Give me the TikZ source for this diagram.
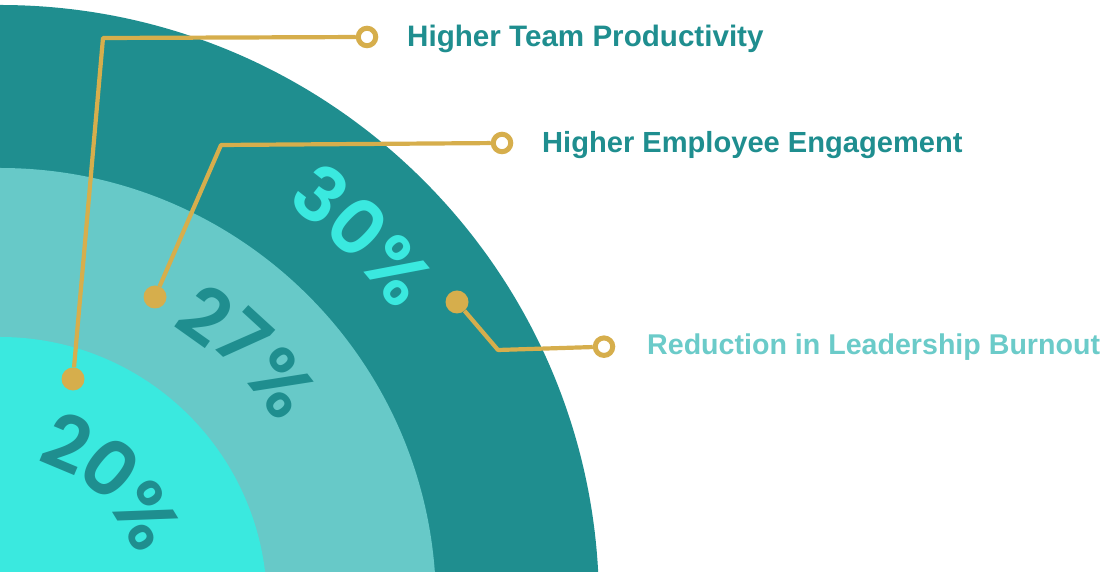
\documentclass[tikz,border=0pt]{standalone}
\usepackage{fontspec}
\setmainfont{Liberation Sans}
\newfontfamily\pop{Poppins SemiBold}
\definecolor{darkteal}{HTML}{1F8E8F}
\definecolor{lightteal}{HTML}{67C9C8}
\definecolor{cyanring}{HTML}{3AE9DF}
\definecolor{labteal}{HTML}{6BCBC9}
\definecolor{gold}{HTML}{D6AE4C}
\tikzset{
  pct/.style={font=\pop\fontsize{76}{76}\selectfont, inner sep=0pt, anchor=center},
  lab/.style={font=\bfseries\fontsize{29}{29}\selectfont, inner sep=0pt, anchor=base west},
  ringend/.style={circle, draw=gold, line width=5pt, fill=white, minimum size=17.5pt, inner sep=0pt},
  dotend/.style={circle, fill=gold, minimum size=23pt, inner sep=0pt},
  conn/.style={draw=gold, line width=4.2pt, line join=round}
}
\begin{document}
\begin{tikzpicture}[x=1pt,y=1pt]
\useasboundingbox (0,0) rectangle (1105,572);
\begin{scope}
  \clip (0,0) rectangle (1105,572);
  \fill[darkteal] (0,-32) circle (599pt);
  \fill[lightteal] (0,-32) circle (436pt);
  \fill[cyanring] (0,-32) circle (267pt);
\end{scope}
% percentages
\node[pct, text=cyanring, rotate=52-90] (p30a) at ([shift={(0,-32)}]52:520.5pt) {3};
\node[pct, text=cyanring, rotate=46.5-90] (p30b) at ([shift={(0,-32)}]46.5:520.3pt) {0};
\node[pct, text=cyanring, rotate=40-90] (p30c) at ([shift={(0,-32)}]40:518pt) {\%};
\node[pct, text=darkteal, rotate=54.6-90] (p27a) at ([shift={(0,-32)}]54.6:355pt) {2};
\node[pct, text=darkteal, rotate=47.5-90] (p27b) at ([shift={(0,-32)}]47.5:361pt) {7};
\node[pct, text=darkteal, rotate=38.2-90] (p27c) at ([shift={(0,-32)}]38.2:357pt) {\%};
\node[pct, text=darkteal, rotate=67.3-90] (p20a) at ([shift={(0,-32)}]67.3:174.2pt) {2};
\node[pct, text=darkteal, rotate=50.8-90] (p20b) at ([shift={(0,-32)}]50.8:175.1pt) {0};
\node[pct, text=darkteal, rotate=31.4-90] (p20c) at ([shift={(0,-32)}]31.4:170.7pt) {\%};
% connector ends
\node[ringend] (r1) at (367,535) {};
\node[ringend] (r2) at (502,429) {};
\node[ringend] (r3) at (604,225.3) {};
\node[dotend] (d1) at (73,193) {};
\node[dotend] (d2) at (155,275) {};
\node[dotend] (d3) at (457,270) {};
\coordinate (c1) at (103,534);
\coordinate (c2) at (221,427);
\coordinate (c3) at (498,222);
\draw[conn] (r1) -- (c1) -- (d1);
\draw[conn] (r2) -- (c2) -- (d2);
\draw[conn] (d3) -- (c3) -- (r3);
% labels
\node[lab, text=darkteal, font=\bfseries\fontsize{29.6}{29.6}\selectfont] (t1) at (407,525) {Higher Team Productivity};
\node[lab, text=darkteal, font=\bfseries\fontsize{29.1}{29.1}\selectfont] (t2) at (542,419.3) {Higher Employee Engagement};
\node[lab, text=labteal, font=\bfseries\fontsize{28.6}{28.6}\selectfont] (t3) at (647,217.5) {Reduction in Leadership Burnout};
\end{tikzpicture}
\end{document}
